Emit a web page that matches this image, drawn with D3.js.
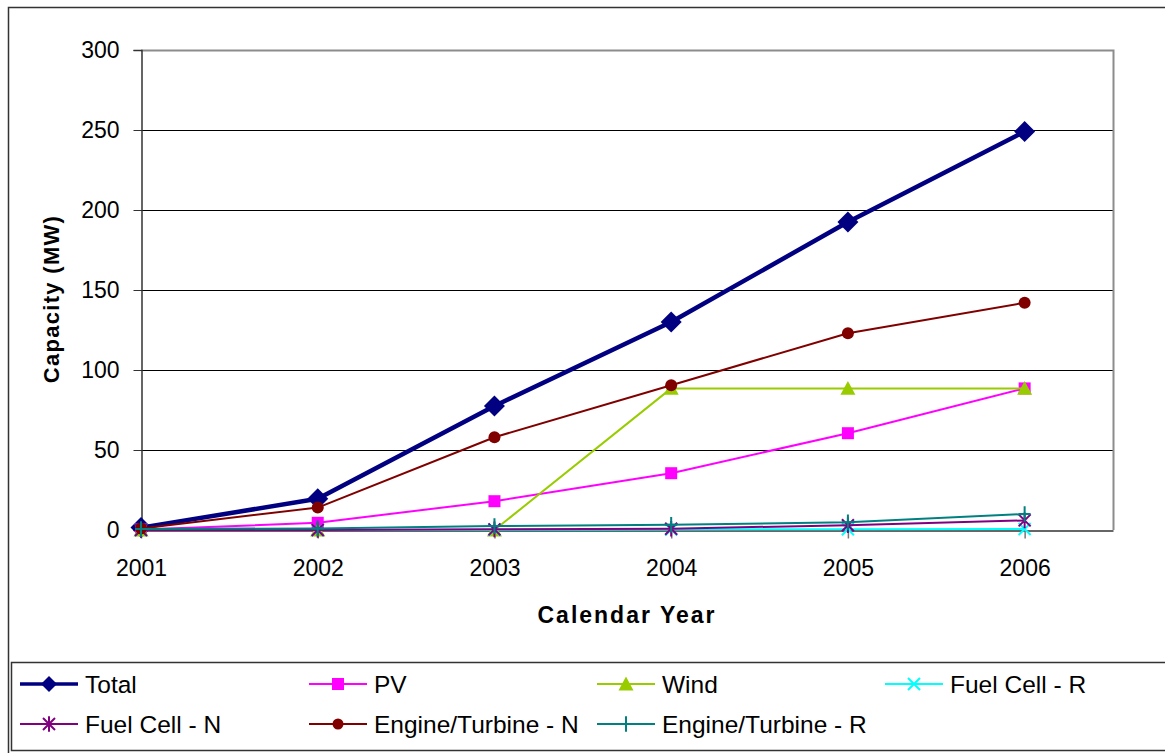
<!DOCTYPE html>
<html>
<head>
<meta charset="utf-8">
<script src="https://cdn.jsdelivr.net/npm/d3@7"></script>
<style>
  html, body { margin: 0; padding: 0; background: #fff; }
  svg { display: block; font-family: "Liberation Sans", Arial, sans-serif; }
</style>
</head>
<body>
<svg id="chart" width="1165" height="753"></svg>
<script>
// Installed distributed-generation capacity by technology, 2001-2006 (MW)
const years = ["2001", "2002", "2003", "2004", "2005", "2006"];
const yTicks = [0, 50, 100, 150, 200, 250, 300];

const total          = [1.5, 19.5, 77.5, 130, 192.5, 249];
const pv             = [0.3, 4.5, 18, 35.5, 60.5, 88.5];
const wind           = [0, 0, 0, 88.5, 88.5, 88.5];
const fuelCellR      = [0, 0, 0.2, 0.3, 0.5, 0.6];
const fuelCellN      = [0, 0, 0.4, 0.8, 3, 6];
const engineTurbineN = [1, 14, 58, 90.5, 123, 142];
const engineTurbineR = [0.6, 1, 2.5, 3.3, 4.8, 10];

const seriesNames  = ["Total", "PV", "Wind", "Fuel Cell - R", "Fuel Cell - N", "Engine/Turbine - N", "Engine/Turbine - R"];
const seriesValues = [total, pv, wind, fuelCellR, fuelCellN, engineTurbineN, engineTurbineR];

const styles = [
  { color: "#000080", width: 4.5, marker: "diamond" },
  { color: "#FF00FF", width: 2,   marker: "square" },
  { color: "#99CC00", width: 2,   marker: "triangle" },
  { color: "#00FFFF", width: 2,   marker: "x" },
  { color: "#800080", width: 2,   marker: "star" },
  { color: "#800000", width: 2,   marker: "circle" },
  { color: "#008080", width: 2,   marker: "plus" }
];

const svg = d3.select("#chart");

// Plot area bounds
const plot = { left: 141, right: 1113, top: 50, bottom: 530 };
const x = d3.scaleLinear().domain([0, 5.5]).range([plot.left, plot.right]);
const y = d3.scaleLinear().domain([0, 300]).range([plot.bottom, plot.top]);

// Outer chart frame
svg.append("rect")
  .attr("x", 8.5).attr("y", 7.5).attr("width", 1180).attr("height", 760)
  .attr("fill", "#fff").attr("stroke", "#333").attr("stroke-width", 1.5);

// Gridlines
svg.append("g")
  .selectAll("line")
  .data(yTicks.filter(d => d > 0 && d < 300))
  .join("line")
  .attr("x1", plot.left).attr("x2", plot.right)
  .attr("y1", d => Math.round(y(d)) + 0.5).attr("y2", d => Math.round(y(d)) + 0.5)
  .attr("stroke", "#000").attr("stroke-width", 1);

// Plot area border (top and right in grey)
svg.append("path")
  .attr("d", `M${plot.left},${plot.top + 0.5}H${plot.right + 0.5}V${plot.bottom}`)
  .attr("fill", "none").attr("stroke", "#8c8c8c").attr("stroke-width", 2);

// Y axis
const yAxis = d3.axisLeft(y).tickValues(yTicks).tickSize(8).tickPadding(14);
const gy = svg.append("g").attr("transform", `translate(${plot.left + 0.5},0)`).call(yAxis);
gy.select(".domain").attr("stroke", "#333").attr("stroke-width", 1.5);
gy.selectAll(".tick line").attr("stroke", "#333");
gy.selectAll(".tick text")
  .attr("font-size", 23).attr("fill", "#000")
  .attr("font-family", "Liberation Sans, Arial, sans-serif");

// X axis (categories placed on ticks)
const xAxis = d3.axisBottom(x)
  .tickValues(d3.range(years.length))
  .tickFormat(i => years[i])
  .tickSize(8).tickPadding(21).tickSizeOuter(0);
const gx = svg.append("g").attr("transform", `translate(0,${plot.bottom + 0.5})`).call(xAxis);
gx.select(".domain").attr("stroke", "#333").attr("stroke-width", 1.5);
gx.selectAll(".tick line").attr("stroke", "#777").attr("stroke-width", 1.5);
gx.selectAll(".tick text")
  .attr("font-size", 23).attr("fill", "#000")
  .attr("font-family", "Liberation Sans, Arial, sans-serif");

// Axis titles
svg.append("text")
  .attr("x", 627).attr("y", 623)
  .attr("text-anchor", "middle")
  .attr("font-size", 23).attr("font-weight", "bold")
  .attr("letter-spacing", "2px")
  .text("Calendar Year");

svg.append("text")
  .attr("transform", "translate(59,299) rotate(-90)")
  .attr("text-anchor", "middle")
  .attr("font-size", 22).attr("font-weight", "bold")
  .attr("letter-spacing", "1.3px")
  .text("Capacity (MW)");

// Marker shapes
function markerPath(type, s) {
  switch (type) {
    case "diamond":  return `M0,${-s}L${s},0L0,${s}L${-s},0Z`;
    case "square":   return `M${-s},${-s}H${s}V${s}H${-s}Z`;
    case "triangle": return `M0,${-s}L${s},${s * 0.85}L${-s},${s * 0.85}Z`;
    case "circle":   return d3.symbol(d3.symbolCircle, Math.PI * s * s)();
    case "x":        return `M${-s},${-s}L${s},${s}M${-s},${s}L${s},${-s}`;
    case "star":     return `M${-s},${-s}L${s},${s}M${-s},${s}L${s},${-s}M0,${-s * 1.3}V${s * 1.3}`;
    case "plus":     return `M${-s},0H${s}M0,${-s * 1.3}V${s * 1.3}`;
  }
}
const isStroked = t => t === "x" || t === "star" || t === "plus";
const markerSize = { diamond: 10.5, square: 6, triangle: 7.5, circle: 6, x: 6, star: 6, plus: 6 };

const line = d3.line().x((d, i) => x(i)).y(d => y(d));

// Series lines and markers
seriesValues.forEach((vals, k) => {
  const st = styles[k];
  const g = svg.append("g");
  g.append("path")
    .attr("d", line(vals))
    .attr("fill", "none")
    .attr("stroke", st.color)
    .attr("stroke-width", st.width)
    .attr("stroke-linejoin", "round");
  g.selectAll("path.mk")
    .data(vals)
    .join("path")
    .attr("class", "mk")
    .attr("transform", (d, i) => `translate(${x(i)},${y(d)})`)
    .attr("d", markerPath(st.marker, markerSize[st.marker]))
    .attr("fill", isStroked(st.marker) ? "none" : st.color)
    .attr("stroke", st.color)
    .attr("stroke-width", isStroked(st.marker) ? 2 : 0);
});

// Legend
svg.append("rect")
  .attr("x", 11.5).attr("y", 662.5).attr("width", 1170).attr("height", 88)
  .attr("fill", "#fff").attr("stroke", "#333").attr("stroke-width", 1.5);

const legendCols = [20, 309, 597, 885];
const legendRows = [684, 724];
const legendMarkerSize = { diamond: 8, square: 6, triangle: 7.5, circle: 5.5, x: 6, star: 6, plus: 6 };

seriesNames.forEach((name, k) => {
  const st = styles[k];
  const cx = legendCols[k % 4];
  const cy = legendRows[Math.floor(k / 4)];
  const g = svg.append("g").attr("transform", `translate(${cx},${cy})`);
  g.append("line")
    .attr("x1", 0).attr("x2", 58).attr("y1", 0).attr("y2", 0)
    .attr("stroke", st.color).attr("stroke-width", k === 0 ? 3.5 : 2);
  g.append("path")
    .attr("transform", "translate(29,0)")
    .attr("d", markerPath(st.marker, legendMarkerSize[st.marker]))
    .attr("fill", isStroked(st.marker) ? "none" : st.color)
    .attr("stroke", st.color)
    .attr("stroke-width", isStroked(st.marker) ? 2 : 0);
  g.append("text")
    .attr("x", 65).attr("y", 9)
    .attr("font-size", 24.5)
    .attr("fill", "#000")
    .text(name);
});
</script>
</body>
</html>
